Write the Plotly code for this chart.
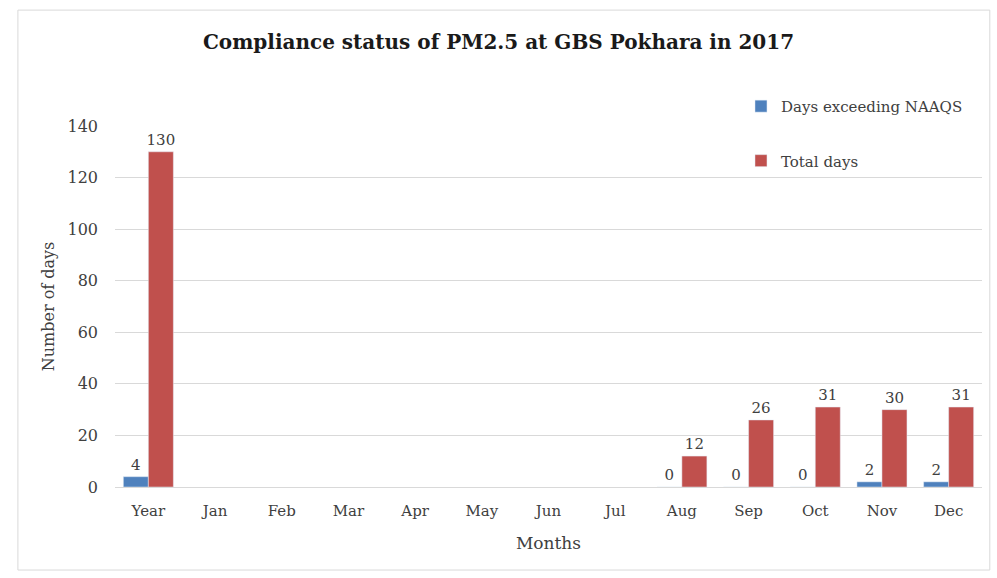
import plotly.graph_objects as go

categories = ["Year", "Jan", "Feb", "Mar", "Apr", "May", "Jun", "Jul", "Aug", "Sep", "Oct", "Nov", "Dec"]
exceeding = [4, None, None, None, None, None, None, None, 0, 0, 0, 2, 2]
total = [130, None, None, None, None, None, None, None, 12, 26, 31, 30, 31]
y_ticks = [0, 20, 40, 60, 80, 100, 120, 140]

FONT = "DejaVu Serif, Liberation Serif, serif"

def labels(vals):
    return ["" if v is None else str(v) for v in vals]

fig = go.Figure()
fig.add_trace(go.Bar(
    x=categories, y=exceeding, name="Days exceeding NAAQS",
    marker_color="#4F81BD", text=labels(exceeding), textposition="outside",
    textfont=dict(size=15, color="#404040", family=FONT), cliponaxis=False,
    constraintext="none", legendgroup="a",
))
fig.add_trace(go.Bar(
    x=categories, y=total, name="Total days",
    marker_color="#C0504D", text=labels(total), textposition="outside",
    textfont=dict(size=15, color="#404040", family=FONT), cliponaxis=False,
    constraintext="none", legendgroup="b",
))

fig.update_layout(
    width=997, height=578,
    margin=dict(l=115, r=15, t=126, b=91),
    paper_bgcolor="white", plot_bgcolor="white",
    font=dict(family=FONT, color="#404040", size=15),
    title=dict(text="<b>Compliance status of PM2.5 at GBS Pokhara in 2017</b>",
               x=0.5, xanchor="center", y=0.928, yanchor="middle",
               font=dict(size=20, color="#1a1a1a", family=FONT)),
    barmode="group", bargap=0.25, bargroupgap=0.0,
    legend=dict(x=0.722, y=1.10, xanchor="left", yanchor="top",
                tracegroupgap=32, font=dict(size=15, color="#404040"),
                bgcolor="rgba(0,0,0,0)", itemwidth=30),
    showlegend=True,
    xaxis=dict(title=dict(text="Months", standoff=18, font=dict(size=17)),
               tickfont=dict(size=15), showgrid=False, showline=False, ticks="",
               ticklabelstandoff=13),
    yaxis=dict(title=dict(text="Number of days", standoff=8, font=dict(size=16)),
               range=[0, 140], tickvals=y_ticks, tickfont=dict(size=16),
               showgrid=True, gridcolor="#d9d9d9", gridwidth=1,
               zeroline=True, zerolinecolor="#d9d9d9", zerolinewidth=1,
               ticks="", ticklabelstandoff=16),
    shapes=[dict(type="rect", xref="paper", yref="paper",
                 x0=-0.112, x1=1.009, y0=-0.23, y1=1.321,
                 line=dict(color="#d9d9d9", width=1), fillcolor="rgba(0,0,0,0)",
                 layer="below")],
)

fig.write_html("out.html", config={"displayModeBar": False},
               post_script="document.body.style.margin='0';")
